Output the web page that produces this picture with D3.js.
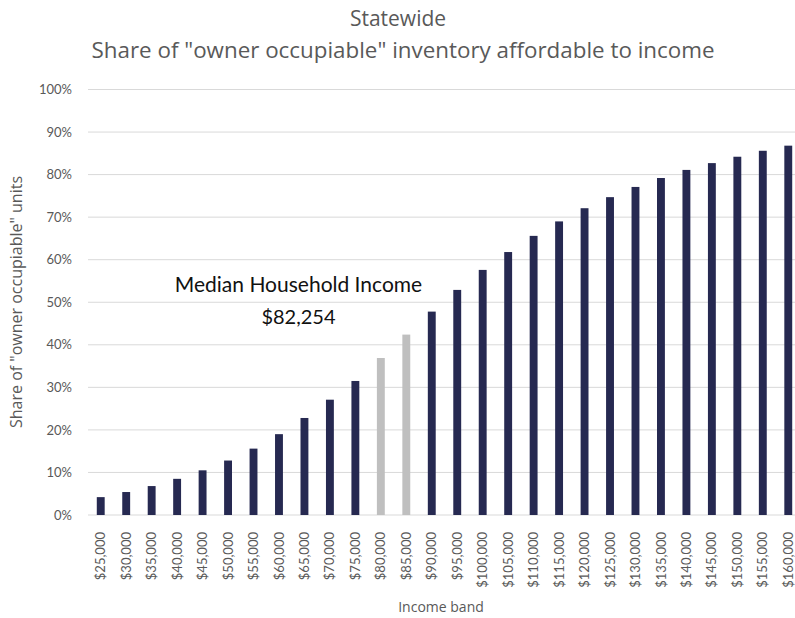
<!DOCTYPE html>
<html>
<head>
<meta charset="utf-8">
<script src="https://cdn.jsdelivr.net/npm/d3@7"></script>
<style>
  body { margin: 0; background: #fff; }
  svg { display: block; font-family: "Open Sans", "DejaVu Sans", sans-serif; }
</style>
</head>
<body>
<div id="container"></div>
<script>
const bands = ["$25,000","$30,000","$35,000","$40,000","$45,000","$50,000","$55,000",
  "$60,000","$65,000","$70,000","$75,000","$80,000","$85,000","$90,000","$95,000",
  "$100,000","$105,000","$110,000","$115,000","$120,000","$125,000","$130,000",
  "$135,000","$140,000","$145,000","$150,000","$155,000","$160,000"];
const shares = [0.042,0.054,0.068,0.085,0.105,0.128,0.156,0.190,0.228,0.271,0.315,
  0.369,0.424,0.478,0.529,0.576,0.618,0.656,0.690,0.721,0.747,0.771,0.792,0.811,
  0.827,0.842,0.856,0.868];
const medianBands = ["$80,000","$85,000"];
const yTicks = [0,0.1,0.2,0.3,0.4,0.5,0.6,0.7,0.8,0.9,1.0];

const w = 795, h = 618;
const plotLeft = 88, plotTop = 89.5, plotBottom = 515;

const svg = d3.select("#container").append("svg")
  .attr("width", w).attr("height", h);

const x = d3.scaleBand().domain(bands).range([plotLeft, 801])
  .paddingInner(0.69).paddingOuter(0.345);
const y = d3.scaleLinear().domain([0, 1]).range([plotBottom, plotTop]);

// gridlines
svg.append("g").selectAll("line").data(yTicks).enter().append("line")
  .attr("x1", plotLeft).attr("x2", w)
  .attr("y1", d => y(d)).attr("y2", d => y(d))
  .attr("stroke", "#d9d9d9").attr("stroke-width", 1);

// y axis labels
const yAxis = d3.axisLeft(y).tickValues(yTicks).tickFormat(d3.format(".0%")).tickSize(0).tickPadding(16);
const yg = svg.append("g").attr("transform", "translate(" + plotLeft + ",0)").call(yAxis);
yg.select(".domain").remove();
yg.selectAll("text").attr("fill", "#595959").style("font-size", "13px")
  .style("font-family", "Lato, 'Open Sans', sans-serif");

// bars
svg.append("g").selectAll("rect").data(bands).enter().append("rect")
  .attr("x", d => x(d))
  .attr("width", x.bandwidth())
  .attr("y", (d, i) => y(shares[i]))
  .attr("height", (d, i) => plotBottom - y(shares[i]))
  .attr("fill", d => medianBands.includes(d) ? "#bfbfbf" : "#262951");

// x axis labels
const xAxis = d3.axisBottom(x).tickSize(0).tickPadding(0);
const xg = svg.append("g").attr("transform", "translate(0," + plotBottom + ")").call(xAxis);
xg.select(".domain").remove();
xg.selectAll("text")
  .attr("fill", "#595959")
  .style("font-size", "13px")
  .style("font-family", "Lato, 'Open Sans', sans-serif")
  .attr("text-anchor", "end")
  .attr("dy", "0.35em")
  .attr("transform", "translate(0,17) rotate(-90)")
  .attr("x", 0).attr("y", 0);

// titles
svg.append("text").attr("x", 398).attr("y", 26)
  .attr("text-anchor", "middle").attr("fill", "#595959")
  .style("font-size", "21px").text("Statewide");
svg.append("text").attr("x", 403).attr("y", 58)
  .attr("text-anchor", "middle").attr("fill", "#595959")
  .attr("textLength", 623).attr("lengthAdjust", "spacingAndGlyphs")
  .style("font-size", "21px")
  .text("Share of \"owner occupiable\" inventory affordable to income");

svg.append("text")
  .attr("transform", "translate(22,302) rotate(-90)")
  .attr("text-anchor", "middle").attr("fill", "#595959")
  .style("font-size", "16px")
  .text("Share of \"owner occupiable\" units");

svg.append("text").attr("x", 441).attr("y", 612)
  .attr("text-anchor", "middle").attr("fill", "#595959")
  .style("font-size", "14px").text("Income band");

// median annotation
const annX = x("$65,000") - 2;
svg.append("text").attr("x", annX).attr("y", y(0.523))
  .attr("text-anchor", "middle").attr("fill", "#111")
  .style("font-size", "21px").style("font-family", "Lato, 'Open Sans', sans-serif")
  .text("Median Household Income");
svg.append("text").attr("x", annX).attr("y", y(0.45))
  .attr("text-anchor", "middle").attr("fill", "#111")
  .style("font-size", "20px").style("font-family", "Lato, 'Open Sans', sans-serif")
  .text("$82,254");
</script>
</body>
</html>
